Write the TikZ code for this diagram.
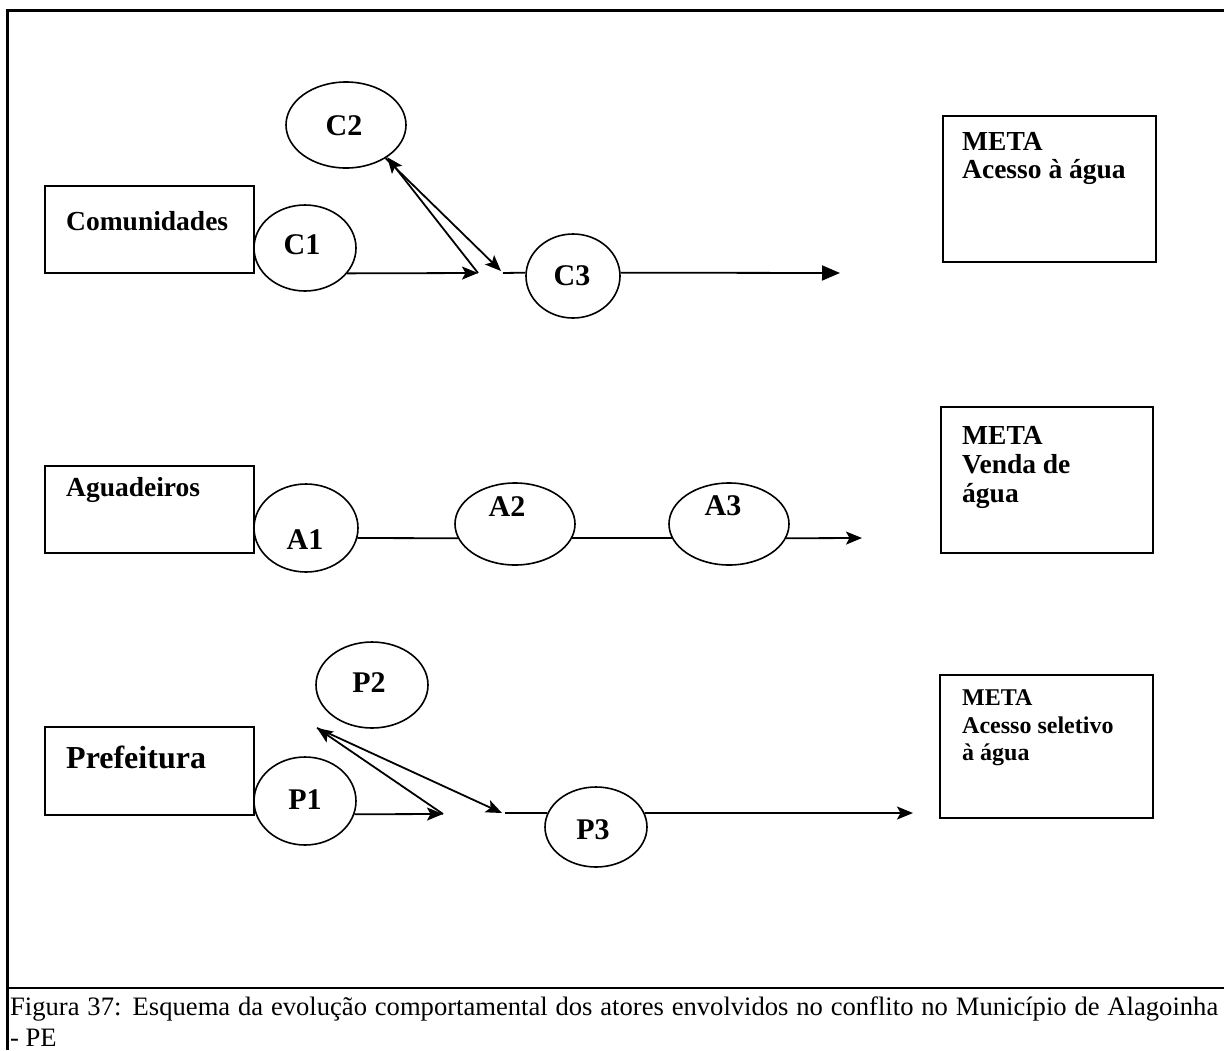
\documentclass[tikz,border=0pt]{standalone}
\usepackage{fontspec}
\setmainfont{Liberation Serif}
\usetikzlibrary{arrows.meta,shapes.geometric}
\begin{document}
\begin{tikzpicture}[x=1pt,y=-1pt,
  outerline/.style={line width=3pt},
  actor/.style={draw, rectangle, line width=1.8pt, inner sep=0pt},
  stage/.style={draw, ellipse, line width=1.6pt, inner sep=0pt},
  lbl/.style={font=\fontsize{30}{30}\selectfont\bfseries, inner sep=0pt},
  boxtxt/.style={font=\fontsize{27.5}{27.5}\selectfont\bfseries, inner sep=0pt, anchor=base west},
  smalltxt/.style={boxtxt, font=\fontsize{24}{24}\selectfont\bfseries},
  link/.style={line width=1.8pt},
  arr/.style={link, -{Stealth[length=16pt,width=13pt,inset=3.5pt]}},
  arrt/.style={link, -{Triangle[length=18pt,width=15pt]}}]
\useasboundingbox (0,0) rectangle (1224,1050);

% page frame and caption rule
\draw[outerline] (7,1050) -- (7,10) -- (1224,10);
\draw[line width=2.2pt] (7,988) -- (1224,988);

% actors
\node[actor, minimum width=209pt, minimum height=87pt] (com) at (149.5,229.5) {};
\node[boxtxt] (comt) at (66,230) {Comunidades};
\node[actor, minimum width=209pt, minimum height=87pt] (agu) at (149.5,509.5) {};
\node[boxtxt] (agut) at (66,496) {Aguadeiros};
\node[actor, minimum width=209pt, minimum height=88pt] (pre) at (149.5,771) {};
\node[boxtxt, font=\fontsize{32}{32}\selectfont\bfseries] (pret) at (66,768) {Prefeitura};

% goals
\node[actor, minimum width=213pt, minimum height=146pt] (meta1) at (1049.5,189) {};
\node[boxtxt] (m1a) at (962,150) {META};
\node[boxtxt] (m1b) at (962,178) {Acesso à água};
\node[actor, minimum width=212pt, minimum height=146pt] (meta2) at (1047,480) {};
\node[boxtxt] (m2a) at (962,444) {META};
\node[boxtxt] (m2b) at (962,473) {Venda de};
\node[boxtxt] (m2c) at (962,502) {água};
\node[actor, minimum width=213pt, minimum height=143pt] (meta3) at (1046.5,746.5) {};
\node[smalltxt] (m3a) at (962,705) {META};
\node[smalltxt] (m3b) at (962,733) {Acesso seletivo};
\node[smalltxt] (m3c) at (962,760) {à água};

% stages
\node[stage, minimum width=102pt, minimum height=86pt] (C1) at (305,248) {};
\node[lbl] (C1t) at (302,245) {C1};
\node[stage, minimum width=120pt, minimum height=86pt] (C2) at (346,125) {};
\node[lbl] (C2t) at (344,126) {C2};
\node[stage, minimum width=94pt, minimum height=84pt] (C3) at (573,276) {};
\node[lbl] (C3t) at (572,276) {C3};

\node[stage, minimum width=104pt, minimum height=88pt] (A1) at (306,528) {};
\node[lbl] (A1t) at (305,540) {A1};
\node[stage, minimum width=120pt, minimum height=82pt] (A2) at (515,524) {};
\node[lbl] (A2t) at (507,507) {A2};
\node[stage, minimum width=120pt, minimum height=82pt] (A3) at (729,524) {};
\node[lbl] (A3t) at (723,506) {A3};

\node[stage, minimum width=102pt, minimum height=88pt] (P1) at (305,801) {};
\node[lbl] (P1t) at (305,800) {P1};
\node[stage, minimum width=112pt, minimum height=86pt] (P2) at (372,685) {};
\node[lbl] (P2t) at (369,683) {P2};
\node[stage, minimum width=102pt, minimum height=80pt] (P3) at (596,827) {};
\node[lbl] (P3t) at (593,830) {P3};

% free ends of the connectors
\coordinate (c1end) at (478,273);
\coordinate (c2end) at (501,271);
\coordinate (c3in) at (503,273);
\coordinate (c3end) at (840,273);
\coordinate (a3end) at (862,538);
\coordinate (p1end) at (443,814);
\coordinate (p2pt) at (317,728);
\coordinate (p2end) at (502,813);
\coordinate (p3in) at (505,813);
\coordinate (p3end) at (913,813);

% Comunidades
\draw[arr] (C1.-31) -- (c1end);
\draw[arr] (c1end) -- (C2.-38);
\draw[arr] (C2.-40) -- (c2end);
\draw[link] (c3in) -- (C3.176);
\draw[arrt] (C3.4) -- (c3end);

% Aguadeiros
\draw[link] (A1.-11) -- (A2.-166);
\draw[link] (A2.-14) -- (A3.-166);
\draw[arr] (A3.-14) -- (a3end);

% Prefeitura
\draw[arr] (P1.-15) -- (p1end);
\draw[arr] (p1end) -- (p2pt);
\draw[arr] (p2pt) -- (p2end);
\draw[link] (p3in) -- (P3.164);
\draw[arr] (P3.16) -- (p3end);

% caption
\node[anchor=base west, inner sep=0pt, font=\fontsize{26.6}{26.6}\selectfont] (cap1) at (10,1015)
  {\makebox[1208pt][s]{Figura 37: Esquema da evolução comportamental dos atores envolvidos no conflito no Município de Alagoinha}};
\node[anchor=base west, inner sep=0pt, font=\fontsize{26.6}{26.6}\selectfont] (cap2) at (10,1046) {- PE};
\end{tikzpicture}
\end{document}
